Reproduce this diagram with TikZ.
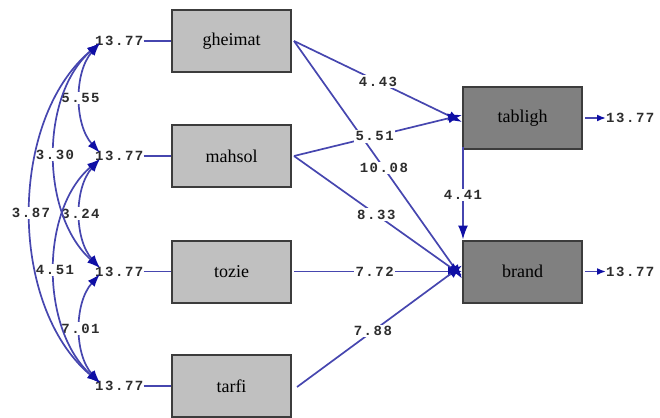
\documentclass[tikz,border=0pt]{standalone}
\usepackage{fontspec}
\setmainfont{Liberation Serif}
\newfontfamily\lblfont[LetterSpace=11]{Liberation Mono}
\usetikzlibrary{arrows.meta}
\definecolor{ln}{RGB}{70,70,175}
\definecolor{ah}{RGB}{15,15,165}
\definecolor{boxL}{RGB}{192,192,192}
\definecolor{boxR}{RGB}{128,128,128}
\definecolor{bd}{RGB}{60,60,60}
\definecolor{lbl}{RGB}{45,45,45}
\tikzset{
  boxbase/.style={draw=bd, line width=2pt, minimum width=119pt, minimum height=62pt,
    inner sep=0pt, font=\fontsize{18}{22}\selectfont},
  lbox/.style={boxbase, fill=boxL},
  rbox/.style={boxbase, fill=boxR},
  elbl/.style={font=\lblfont\bfseries\fontsize{14}{15}\selectfont, text=lbl, inner sep=0pt},
  plbl/.style={elbl, fill=white, inner sep=1.5pt},
  pth/.style={draw=ln, line width=1.7pt, -{Latex[length=14pt,width=10pt,color=ah]}},
  covar/.style={draw=ln, line width=1.7pt, {Latex[length=13pt,width=9pt,color=ah]}-{Latex[length=13pt,width=9pt,color=ah]}},
  thinln/.style={draw=ln, line width=1.7pt},
}
\begin{document}
\begin{tikzpicture}[x=1pt,y=-1pt]
\useasboundingbox (0,0) rectangle (660,417);
% observed boxes
\node[lbox] (g) at (231.5,41) {gheimat};
\node[lbox] (m) at (231.5,156) {mahsol};
\node[lbox] (t) at (231.5,271.5) {tozie};
\node[lbox] (f) at (231.5,386) {tarfi};
\node[rbox] (tb) at (522.5,118) {tabligh};
\node[rbox] (br) at (522.5,271.5) {brand};
% error labels left
\node[elbl, anchor=west] (e1) at (95,41) {13.77};
\node[elbl, anchor=west] (e2) at (95,156) {13.77};
\node[elbl, anchor=west] (e3) at (95,271.5) {13.77};
\node[elbl, anchor=west] (e4) at (95,386) {13.77};
\draw[thinln] (e1.east) -- (g.west);
\draw[thinln] (e2.east) -- (m.west);
\draw[thinln] (e3.east) -- (t.west);
\draw[thinln] (e4.east) -- (f.west);
% curve end points
\coordinate (c1d) at (100,43);
\coordinate (c2u) at (100,153);
\coordinate (c2d) at (100,159);
\coordinate (c3u) at (100,268);
\coordinate (c3d) at (100,274);
\coordinate (c4u) at (100,383);
% covariances
\draw[covar] (c1d) .. controls (74,72) and (74,124) .. (c2u) node[pos=0.5, plbl] {5.55};
\draw[covar] (c2d) .. controls (74,188) and (74,239) .. (c3u) node[pos=0.5, plbl] {3.24};
\draw[covar] (c3d) .. controls (74,303) and (74,354) .. (c4u) node[pos=0.5, plbl] {7.01};
\draw[covar] (c1d) .. controls (40,95) and (40,214) .. (c3u) node[pos=0.5, plbl] {3.30};
\draw[covar] (c2d) .. controls (40,210) and (40,329) .. (c4u) node[pos=0.5, plbl] {4.51};
\draw[covar] (c1d) .. controls (8,120) and (8,306) .. (c4u) node[pos=0.5, plbl] {3.87};
% paths
\draw[pth] ([xshift=2pt]g.east) -- ([yshift=-4pt]tb.west) node[pos=0.5, plbl] {4.43};
\draw[pth] ([xshift=2pt]g.east) -- ([yshift=-7pt]br.west) node[pos=0.535, plbl] {10.08};
\draw[pth] ([xshift=2pt]m.east) -- ([yshift=3pt]tb.west) node[pos=0.48, plbl] {5.51};
\draw[pth] ([xshift=2pt]m.east) -- ([yshift=-4pt]br.west) node[pos=0.49, plbl] {8.33};
\draw[pth] ([xshift=2pt]t.east) -- (br.west) node[pos=0.48, plbl] {7.72};
\draw[pth] ([xshift=5pt,yshift=-1pt]f.east) -- ([yshift=6pt]br.west) node[pos=0.46, plbl] {7.88};
\draw[pth] ([xshift=1pt,yshift=3pt]tb.south west) -- ([xshift=1pt]br.north west) node[pos=0.52, plbl] {4.41};
% error labels right
\node[elbl, anchor=west] (r1) at (606,118) {13.77};
\node[elbl, anchor=west] (r2) at (606,271.5) {13.77};
\draw[draw=ln, line width=1.7pt, {Latex[length=9pt,width=7pt,color=ah]}-] (r1.west) -- ([xshift=2pt]tb.east);
\draw[draw=ln, line width=1.7pt, {Latex[length=9pt,width=7pt,color=ah]}-] (r2.west) -- ([xshift=2pt]br.east);
\end{tikzpicture}
\end{document}
